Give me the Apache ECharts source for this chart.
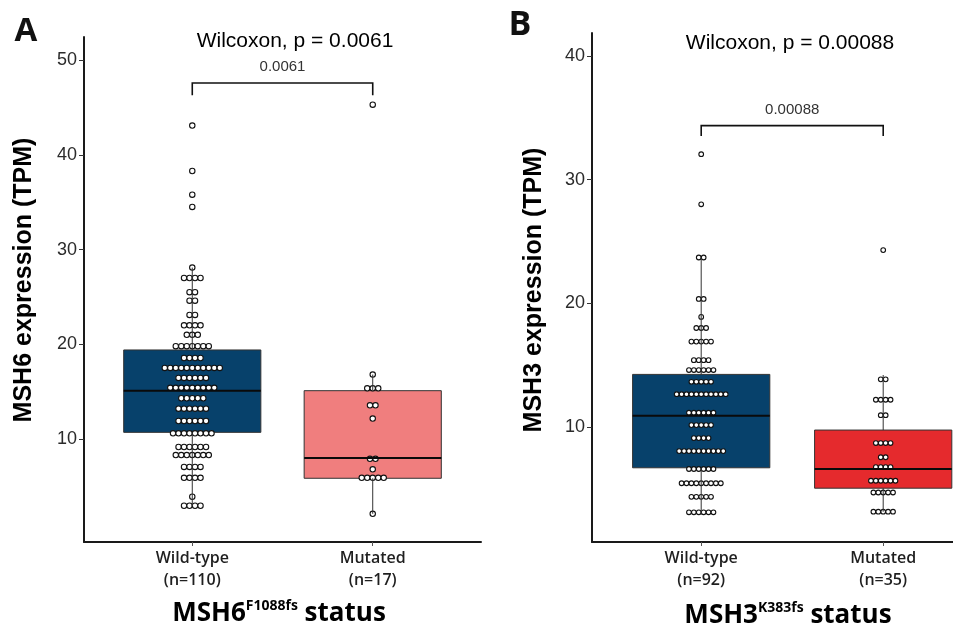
<!DOCTYPE html>
<html>
<head>
<meta charset="utf-8">
<script src="https://cdn.jsdelivr.net/npm/echarts@6/dist/echarts.min.js"></script>
<style>
html, body { margin: 0; padding: 0; background: #ffffff; }
#chart { width: 953px; height: 633px; }
</style>
</head>
<body>
<div id="chart"></div>
<script>
// Groups along each x axis (positions 1 and 2)
const groups = ['Wild-type', 'Mutated'];

// ---- Panel A: MSH6 expression by MSH6 F1088fs status ----
const msh6N = [110, 17];
// Box summaries: [lower whisker, Q1, median, Q3, upper whisker]
const msh6Box = [
  [2.9, 10.7, 15.1, 19.4, 28.1],
  [2.1, 5.85, 8.0, 15.1, 16.8]
];
// Dot rows: [TPM value, number of dots in the row]
const msh6WildDots = [
  [43.1, 1], [38.3, 1], [35.8, 1], [34.5, 1],
  [28.1, 1], [27.0, 4], [25.5, 2], [24.6, 2], [23.1, 2], [22.0, 4], [21.0, 3],
  [19.8, 7], [18.55, 4], [17.5, 11], [16.45, 6], [15.4, 9], [14.3, 5], [13.2, 6],
  [11.9, 6], [10.6, 8], [9.15, 6], [8.3, 7], [7.05, 4], [5.9, 4], [3.9, 1], [2.95, 4]
];
const msh6MutDots = [
  [45.3, 1], [16.8, 1], [15.35, 3], [13.55, 2], [12.15, 1],
  [7.9, 2], [6.8, 1], [5.9, 5], [2.1, 1]
];
const msh6PValue = '0.0061';
// Comparison bracket: [from group, to group, bar level, tick end] in TPM
const msh6Bracket = [1, 2, 47.6, 46.3];

// ---- Panel B: MSH3 expression by MSH3 K383fs status ----
const msh3N = [92, 35];
const msh3Box = [
  [2.9, 6.7, 10.9, 14.25, 23.7],
  [3.15, 5.05, 6.6, 9.75, 14.2]
];
const msh3WildDots = [
  [32.05, 1], [28.0, 1],
  [23.7, 2], [20.35, 2], [18.9, 1], [18.0, 3], [16.9, 5], [15.4, 4], [14.6, 6],
  [13.65, 5], [12.65, 11], [11.15, 6], [10.15, 5], [9.1, 4], [8.05, 10],
  [6.6, 6], [5.45, 9], [4.35, 5], [3.1, 6]
];
const msh3MutDots = [
  [24.3, 1], [13.85, 2], [12.2, 4], [10.95, 2], [8.7, 4],
  [7.55, 2], [6.75, 4], [5.65, 6], [4.7, 5], [3.15, 5]
];
const msh3PValue = '0.00088';
const msh3Bracket = [1, 2, 34.36, 33.52];

// Tick values of the y axes
const msh6Ticks = [10, 20, 30, 40, 50];
const msh3Ticks = [10, 20, 30, 40];

const NAVY = '#07416B';
const CORAL = '#F07E7E';
const RED = '#E52A2D';
const SANS = '"Liberation Sans", Arial, sans-serif';
const MYRIAD = '"Open Sans", "Liberation Sans", sans-serif';

function boxFillSeries(idx, boxes, colors, halfW) {
  return {
    type: 'custom', xAxisIndex: idx, yAxisIndex: idx, z: 2, silent: true,
    data: boxes.map((b, i) => [i + 1].concat(b)),
    encode: { x: 0, y: [1, 5] },
    renderItem(params, api) {
      const x = api.value(0);
      const tl = api.coord([x - halfW, api.value(4)]);
      const br = api.coord([x + halfW, api.value(2)]);
      return {
        type: 'rect',
        shape: { x: tl[0], y: tl[1], width: br[0] - tl[0], height: br[1] - tl[1] },
        style: { fill: colors[params.dataIndex], stroke: '#333333', lineWidth: 1 }
      };
    }
  };
}

function boxLineSeries(idx, boxes, halfW) {
  return {
    type: 'custom', xAxisIndex: idx, yAxisIndex: idx, z: 4, silent: true,
    data: boxes.map((b, i) => [i + 1].concat(b)),
    encode: { x: 0, y: [1, 5] },
    renderItem(params, api) {
      const x = api.value(0);
      const lo = api.coord([x, api.value(1)]);
      const q1 = api.coord([x, api.value(2)]);
      const q3 = api.coord([x, api.value(4)]);
      const hi = api.coord([x, api.value(5)]);
      const mL = api.coord([x - halfW, api.value(3)]);
      const mR = api.coord([x + halfW, api.value(3)]);
      const ws = { stroke: '#333333', lineWidth: 1 };
      return {
        type: 'group',
        children: [
          { type: 'line', shape: { x1: lo[0], y1: lo[1], x2: q1[0], y2: q1[1] }, style: ws },
          { type: 'line', shape: { x1: q3[0], y1: q3[1], x2: hi[0], y2: hi[1] }, style: ws },
          { type: 'line', shape: { x1: mL[0], y1: mL[1], x2: mR[0], y2: mR[1] }, style: { stroke: '#0a0a0a', lineWidth: 2 } }
        ]
      };
    }
  };
}

function dotSeries(idx, rows, x, spacing, r) {
  return {
    type: 'custom', xAxisIndex: idx, yAxisIndex: idx, z: 3, silent: true,
    data: rows.map(d => [x, d[0], d[1]]),
    encode: { x: 0, y: 1 },
    renderItem(params, api) {
      const c = api.coord([api.value(0), api.value(1)]);
      const n = api.value(2);
      const children = [];
      for (let i = 0; i < n; i++) {
        children.push({
          type: 'circle',
          shape: { cx: c[0] + (i - (n - 1) / 2) * spacing, cy: c[1], r: r },
          style: { fill: '#ffffff', stroke: '#111111', lineWidth: 1.1 }
        });
      }
      return { type: 'group', children: children };
    }
  };
}

function bracketSeries(idx, br, label) {
  return {
    type: 'custom', xAxisIndex: idx, yAxisIndex: idx, z: 5, silent: true,
    data: [br],
    encode: { x: [0, 1], y: [2, 3] },
    renderItem(params, api) {
      const a0 = api.coord([api.value(0), api.value(3)]);
      const a1 = api.coord([api.value(0), api.value(2)]);
      const b1 = api.coord([api.value(1), api.value(2)]);
      const b0 = api.coord([api.value(1), api.value(3)]);
      return {
        type: 'group',
        children: [
          { type: 'polyline', shape: { points: [a0, a1, b1, b0] }, style: { fill: null, stroke: '#111111', lineWidth: 1.6 } },
          { type: 'text', x: (a1[0] + b1[0]) / 2, y: a1[1] - 16,
            style: { text: label, font: '15px ' + SANS, fill: '#333333', align: 'center', verticalAlign: 'middle' } }
        ]
      };
    }
  };
}

function xAxisCfg(idx, max, counts) {
  return {
    gridIndex: idx, type: 'value', min: 0.4, max: max,
    splitLine: { show: false },
    axisLine: { show: true, onZero: false, lineStyle: { color: '#1a1a1a', width: 2 } },
    axisTick: { show: true, customValues: [1, 2], length: 4, lineStyle: { color: '#555555', width: 1 } },
    axisLabel: {
      customValues: [1, 2], margin: 5,
      formatter: v => '{a|' + groups[v - 1] + '}\n{a|(n=' + counts[v - 1] + ')}',
      rich: { a: { fontFamily: MYRIAD, fontWeight: 600, fontSize: 16, lineHeight: 22, color: '#1f1f1f', align: 'center' } }
    }
  };
}

function yAxisCfg(idx, min, max, ticks) {
  return {
    gridIndex: idx, type: 'value', min: min, max: max,
    splitLine: { show: false },
    axisLine: { show: true, onZero: false, lineStyle: { color: '#1a1a1a', width: 2 } },
    axisTick: { show: true, customValues: ticks, length: 5, lineStyle: { color: '#333333', width: 1 } },
    axisLabel: { customValues: ticks, margin: 7, fontFamily: SANS, fontSize: 18, color: '#2b2b2b' }
  };
}

const chart = echarts.init(document.getElementById('chart'));

chart.setOption({
  animation: false,
  backgroundColor: '#ffffff',
  grid: [
    { left: 84, top: 37, width: 397, height: 505 },
    { left: 592, top: 33, width: 361, height: 509 }
  ],
  xAxis: [
    xAxisCfg(0, 2.6, msh6N),
    xAxisCfg(1, 2.3835, msh3N)
  ],
  yAxis: [
    yAxisCfg(0, -0.88, 52.45, msh6Ticks),
    yAxisCfg(1, 0.70, 41.85, msh3Ticks)
  ],
  series: [
    boxFillSeries(0, msh6Box, [NAVY, CORAL], 0.38),
    dotSeries(0, msh6WildDots, 1, 5.5, 2.7),
    dotSeries(0, msh6MutDots, 2, 5.5, 2.7),
    boxLineSeries(0, msh6Box, 0.38),
    bracketSeries(0, msh6Bracket, msh6PValue),

    boxFillSeries(1, msh3Box, [NAVY, RED], 0.377),
    dotSeries(1, msh3WildDots, 1, 4.9, 2.35),
    dotSeries(1, msh3MutDots, 2, 4.9, 2.35),
    boxLineSeries(1, msh3Box, 0.377),
    bracketSeries(1, msh3Bracket, msh3PValue)
  ],
  graphic: [
    { type: 'text', x: 26, y: 32, style: { text: 'A', font: 'bold 33px ' + MYRIAD, fill: '#111111', align: 'center', verticalAlign: 'middle' } },
    { type: 'text', x: 520, y: 25, style: { text: 'B', font: 'bold 34px ' + MYRIAD, fill: '#111111', align: 'center', verticalAlign: 'middle' } },

    { type: 'text', x: 295, y: 41, style: { text: 'Wilcoxon, p = ' + msh6PValue, font: '21px ' + SANS, fill: '#000000', align: 'center', verticalAlign: 'middle' } },
    { type: 'text', x: 790, y: 43, style: { text: 'Wilcoxon, p = ' + msh3PValue, font: '21px ' + SANS, fill: '#000000', align: 'center', verticalAlign: 'middle' } },

    { type: 'text', x: 24, y: 280, rotation: Math.PI / 2, style: { text: 'MSH6 expression (TPM)', font: 'bold 25px ' + SANS, fill: '#000000', align: 'center', verticalAlign: 'middle' } },
    { type: 'text', x: 534, y: 290, rotation: Math.PI / 2, style: { text: 'MSH3 expression (TPM)', font: 'bold 25px ' + SANS, fill: '#000000', align: 'center', verticalAlign: 'middle' } },

    { type: 'text', x: 279, y: 614, style: {
        text: '{m|MSH6}{s|F1088fs}{m| status}', align: 'center', verticalAlign: 'middle',
        rich: {
          m: { fontFamily: MYRIAD, fontWeight: 'bold', fontSize: 26, lineHeight: 30, fill: '#000000' },
          s: { fontFamily: MYRIAD, fontWeight: 'bold', fontSize: 14, lineHeight: 18, verticalAlign: 'top', fill: '#000000' }
        } } },
    { type: 'text', x: 788, y: 616, style: {
        text: '{m|MSH3}{s|K383fs}{m| status}', align: 'center', verticalAlign: 'middle',
        rich: {
          m: { fontFamily: MYRIAD, fontWeight: 'bold', fontSize: 26, lineHeight: 30, fill: '#000000' },
          s: { fontFamily: MYRIAD, fontWeight: 'bold', fontSize: 14, lineHeight: 18, verticalAlign: 'top', fill: '#000000' }
        } } }
  ]
});
</script>
</body>
</html>
